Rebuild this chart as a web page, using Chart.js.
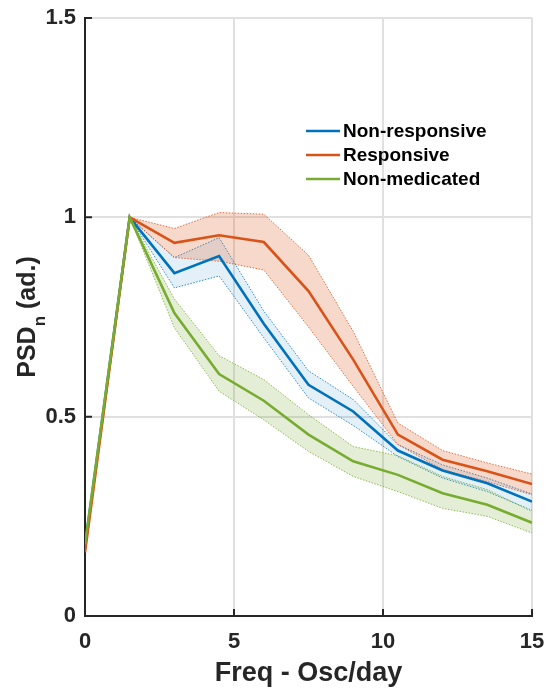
<!DOCTYPE html>
<html lang="en">
  <head>
    <meta charset="UTF-8" />
    <title>PSD by group</title>
    <script src="https://cdn.jsdelivr.net/npm/chart.js"></script>
    <style>
      * {
        margin: 0;
        padding: 0;
      }
      body {
        background: #fff;
        width: 549px;
        height: 691px;
        overflow: hidden;
      }
    </style>
  </head>
  <body>
    <canvas id="psdChart" width="549" height="691"></canvas>

    <script>
      // frequency bins (osc/day)
      const freq = [0, 1.5, 3, 4.5, 6, 7.5, 9, 10.5, 12, 13.5, 15];

      // normalised PSD, mean and upper/lower bounds of the shaded band
      const nonResponsive = [0.175, 1.0, 0.86, 0.903, 0.733, 0.58, 0.513, 0.415, 0.365, 0.333, 0.287];
      const nonResponsiveHi = [0.175, 1.0, 0.899, 0.949, 0.765, 0.615, 0.543, 0.43, 0.379, 0.346, 0.306];
      const nonResponsiveLo = [0.175, 1.0, 0.823, 0.853, 0.698, 0.547, 0.478, 0.4, 0.346, 0.312, 0.265];

      const responsive = [0.16, 1.0, 0.936, 0.955, 0.938, 0.815, 0.643, 0.455, 0.392, 0.363, 0.331];
      const responsiveHi = [0.16, 1.0, 0.972, 1.012, 1.008, 0.905, 0.714, 0.484, 0.415, 0.384, 0.356];
      const responsiveLo = [0.16, 1.0, 0.899, 0.89, 0.868, 0.725, 0.576, 0.43, 0.367, 0.337, 0.304];

      const nonMedicated = [0.18, 1.0, 0.76, 0.607, 0.54, 0.455, 0.388, 0.354, 0.308, 0.279, 0.234];
      const nonMedicatedHi = [0.18, 1.0, 0.795, 0.653, 0.593, 0.505, 0.425, 0.402, 0.35, 0.317, 0.262];
      const nonMedicatedLo = [0.18, 1.0, 0.723, 0.564, 0.492, 0.413, 0.35, 0.312, 0.27, 0.25, 0.208];

      const xTicks = [0, 5, 10, 15];
      const yTicks = [0, 0.5, 1, 1.5];

      const FONT = '"Liberation Sans", Arial, sans-serif';
      const INK = "#262626";
      const BLUE = "#0072BD";
      const ORANGE = "#D95319";
      const GREEN = "#77AC30";

      const pts = (arr) => freq.map((f, i) => ({ x: f, y: arr[i] }));

      function meanLine(label, arr, color, order) {
        return {
          label: label,
          data: pts(arr),
          borderColor: color,
          borderWidth: 2.6,
          pointRadius: 0,
          fill: false,
          tension: 0,
          order: order,
        };
      }

      function bandEdge(arr, color, fillColor, fillTo, order) {
        return {
          label: "",
          data: pts(arr),
          borderColor: color,
          borderWidth: 1,
          borderDash: [1.5, 1.5],
          pointRadius: 0,
          backgroundColor: fillColor,
          fill: fillTo,
          tension: 0,
          order: order,
        };
      }

      // y label with subscript, rotated
      const yTitle = {
        id: "yTitle",
        afterDraw(chart) {
          const ctx = chart.ctx;
          const area = chart.chartArea;
          const big = "bold 25px " + FONT;
          const small = "bold 17px " + FONT;
          ctx.save();
          ctx.translate(35, (area.top + area.bottom) / 2);
          ctx.rotate(-Math.PI / 2);
          ctx.fillStyle = INK;
          ctx.textBaseline = "alphabetic";
          ctx.font = big;
          const wa = ctx.measureText("PSD").width;
          const wc = ctx.measureText(" (ad.)").width;
          ctx.font = small;
          const wb = ctx.measureText("n").width;
          let x = -(wa + wb + wc) / 2;
          ctx.font = big;
          ctx.fillText("PSD", x, 0);
          x += wa;
          ctx.font = small;
          ctx.fillText("n", x, 10);
          x += wb;
          ctx.font = big;
          ctx.fillText(" (ad.)", x, 0);
          ctx.restore();
        },
      };

      // inward tick marks on the left and bottom axes
      const innerTicks = {
        id: "innerTicks",
        afterDraw(chart) {
          const ctx = chart.ctx;
          const xs = chart.scales.x;
          const ys = chart.scales.y;
          const area = chart.chartArea;
          ctx.save();
          ctx.strokeStyle = INK;
          ctx.lineWidth = 2;
          ctx.beginPath();
          xTicks.forEach((v) => {
            const px = xs.getPixelForValue(v);
            ctx.moveTo(px, area.bottom);
            ctx.lineTo(px, area.bottom - 7);
          });
          yTicks.forEach((v) => {
            const py = ys.getPixelForValue(v);
            ctx.moveTo(area.left, py);
            ctx.lineTo(area.left + 7, py);
          });
          ctx.stroke();
          ctx.restore();
        },
      };

      // legend inside the axes, no box
      const innerLegend = {
        id: "innerLegend",
        afterDraw(chart) {
          const ctx = chart.ctx;
          const items = chart.data.datasets.filter((d) => d.label);
          items.sort((a, b) => b.order - a.order);
          ctx.save();
          ctx.font = "bold 19px " + FONT;
          ctx.textBaseline = "middle";
          ctx.fillStyle = "#000";
          items.forEach((d, i) => {
            const y = 131 + i * 24;
            ctx.strokeStyle = d.borderColor;
            ctx.lineWidth = 2.6;
            ctx.beginPath();
            ctx.moveTo(306, y);
            ctx.lineTo(340, y);
            ctx.stroke();
            ctx.fillText(d.label, 343, y + 1);
          });
          ctx.restore();
        },
      };

      const ctx = document.getElementById("psdChart").getContext("2d");
      new Chart(ctx, {
        type: "line",
        data: {
          datasets: [
            meanLine("Non-medicated", nonMedicated, GREEN, 0),
            meanLine("Responsive", responsive, ORANGE, 1),
            meanLine("Non-responsive", nonResponsive, BLUE, 2),
            bandEdge(nonResponsiveHi, "rgba(0,114,189,0.8)", "transparent", false, 5),
            bandEdge(nonResponsiveLo, "rgba(0,114,189,0.8)", "rgba(0,114,189,0.11)", "-1", 5),
            bandEdge(responsiveHi, "rgba(217,83,25,0.8)", "transparent", false, 4),
            bandEdge(responsiveLo, "rgba(217,83,25,0.8)", "rgba(217,83,25,0.22)", "-1", 4),
            bandEdge(nonMedicatedHi, "rgba(119,172,48,0.8)", "transparent", false, 3),
            bandEdge(nonMedicatedLo, "rgba(119,172,48,0.8)", "rgba(119,172,48,0.2)", "-1", 3),
          ],
        },
        options: {
          responsive: false,
          animation: false,
          devicePixelRatio: 1,
          layout: {
            padding: { top: 18, right: 17, left: 0, bottom: 0 },
          },
          scales: {
            x: {
              type: "linear",
              min: 0,
              max: 15,
              afterFit: (s) => {
                s.height = 75;
                s.paddingLeft = 0;
                s.paddingRight = 0;
              },
              afterBuildTicks: (s) => {
                s.ticks = xTicks.map((v) => ({ value: v }));
              },
              ticks: {
                color: INK,
                font: { family: FONT, size: 22, weight: "bold" },
                padding: 13,
                maxRotation: 0,
                callback: (v) => String(v),
              },
              grid: {
                color: "#e0e0e0",
                lineWidth: 2,
                drawTicks: false,
              },
              border: { color: INK, width: 2 },
              title: {
                display: true,
                text: "Freq - Osc/day",
                color: INK,
                font: { family: FONT, size: 27, weight: "bold" },
                padding: { top: 0, bottom: 1 },
              },
            },
            y: {
              min: 0,
              max: 1.5,
              afterFit: (s) => {
                s.width = 85;
                s.paddingTop = 0;
                s.paddingBottom = 0;
              },
              afterBuildTicks: (s) => {
                s.ticks = yTicks.map((v) => ({ value: v }));
              },
              ticks: {
                color: INK,
                font: { family: FONT, size: 22, weight: "bold" },
                padding: 9,
                callback: (v) => String(v),
              },
              grid: {
                color: "#e0e0e0",
                lineWidth: 2,
                drawTicks: false,
              },
              border: { color: INK, width: 2 },
            },
          },
          plugins: {
            legend: { display: false },
            tooltip: { enabled: false },
          },
        },
        plugins: [yTitle, innerTicks, innerLegend],
      });
    </script>
  </body>
</html>
